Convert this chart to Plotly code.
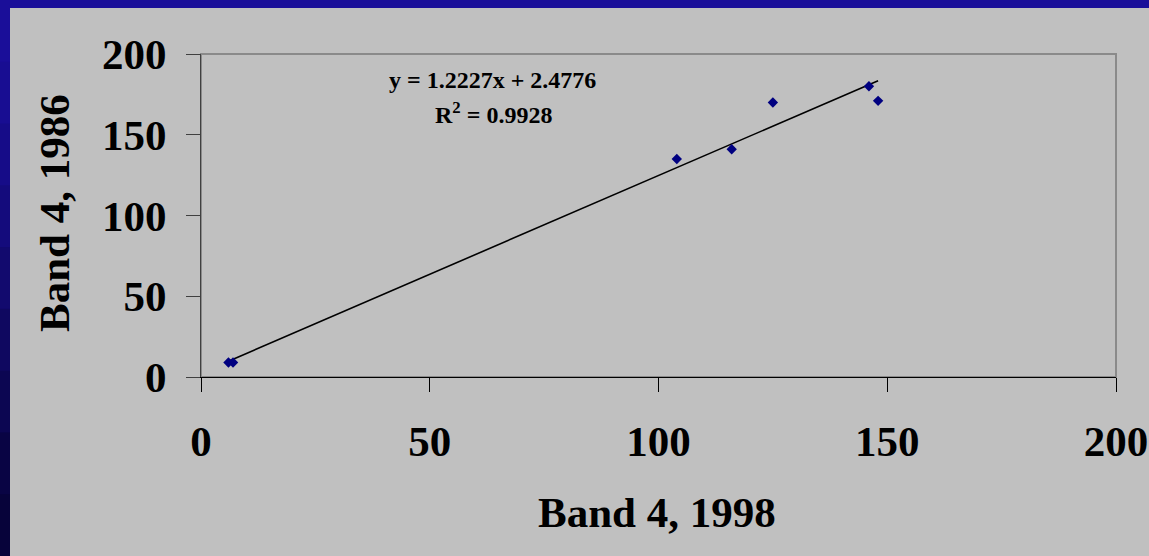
import plotly.graph_objects as go

# Data
band4_1998 = [6, 7, 104, 116, 125, 146, 148]
band4_1986 = [9, 9, 135, 141, 170, 180, 171]

slope = 1.2227
intercept = 2.4776
r_squared = 0.9928

x_ticks = [0, 50, 100, 150, 200]
y_ticks = [0, 50, 100, 150, 200]

FONT = "Liberation Serif"
W, H = 1149, 556
L, R, T, B = 201, 33, 54, 179
pw, ph = W - L - R, H - T - B

def px2paper_x(px):
    return (px - L) / pw

def px2paper_y(py):
    return (H - B - py) / ph

fig = go.Figure()

# trendline from fitted equation over data range
x_line = [min(band4_1998), max(band4_1998)]
y_line = [slope * v + intercept for v in x_line]
fig.add_trace(go.Scatter(x=x_line, y=y_line, mode="lines",
                         line=dict(color="black", width=1.6),
                         hoverinfo="skip", showlegend=False))
fig.add_trace(go.Scatter(x=band4_1998, y=band4_1986, mode="markers",
                         marker=dict(symbol="diamond", size=8, color="#000080",
                                     line=dict(width=0)),
                         showlegend=False))

shapes = []
# blue slide background strips (left gradient, top)
left_cols = ["#1a0e99", "#180d92", "#160c88", "#140b7c", "#120a6e", "#0f0860",
             "#0c0652", "#090444", "#07033a"]
n = len(left_cols)
for i, c in enumerate(left_cols):
    shapes.append(dict(type="rect", xref="paper", yref="paper", layer="below",
                       x0=px2paper_x(0), x1=px2paper_x(10),
                       y0=px2paper_y(i * H / n), y1=px2paper_y((i + 1) * H / n + 1),
                       fillcolor=c, line=dict(width=0)))
shapes.append(dict(type="rect", xref="paper", yref="paper", layer="below",
                   x0=px2paper_x(0), x1=px2paper_x(W),
                   y0=px2paper_y(0), y1=px2paper_y(8),
                   fillcolor="#1a0e99", line=dict(width=0)))
# plot area border (top/right gray)
shapes.append(dict(type="rect", xref="paper", yref="paper", layer="below",
                   x0=0, x1=1, y0=0, y1=1,
                   fillcolor="rgba(0,0,0,0)", line=dict(color="#8a8a8a", width=2)))

annotations = [
    dict(text="y = %.4fx + %.4f" % (slope, intercept), xref="paper", yref="paper",
         x=px2paper_x(492.5), y=px2paper_y(80), showarrow=False,
         xanchor="center", yanchor="middle",
         font=dict(family=FONT, size=24, color="black", weight="bold")),
    dict(text="R<sup>2</sup> = %.4f" % r_squared, xref="paper", yref="paper",
         x=px2paper_x(493), y=px2paper_y(113), showarrow=False,
         xanchor="center", yanchor="middle",
         font=dict(family=FONT, size=24, color="black", weight="bold")),
    dict(text="Band 4, 1998", xref="paper", yref="paper",
         x=px2paper_x(657), y=px2paper_y(512), showarrow=False,
         xanchor="center", yanchor="middle",
         font=dict(family=FONT, size=43, color="black", weight="bold")),
    dict(text="Band 4, 1986", xref="paper", yref="paper", textangle=-90,
         x=px2paper_x(54), y=px2paper_y(213), showarrow=False,
         xanchor="center", yanchor="middle",
         font=dict(family=FONT, size=43, color="black", weight="bold")),
]

fig.update_layout(
    width=W, height=H,
    margin=dict(l=L, r=R, t=T, b=B, pad=0),
    paper_bgcolor="#c0c0c0", plot_bgcolor="#c0c0c0",
    shapes=shapes, annotations=annotations,
    showlegend=False,
    xaxis=dict(range=[0, 200], tickvals=x_ticks, ticktext=[str(v) for v in x_ticks],
               automargin=False,
               showgrid=False, zeroline=False, showline=True, linecolor="black",
               linewidth=1, ticks="outside", ticklen=14, tickcolor="black",
               tickwidth=1, ticklabelstandoff=12,
               tickfont=dict(family=FONT, size=43, color="black", weight="bold")),
    yaxis=dict(range=[0, 200], tickvals=y_ticks, ticktext=[str(v) for v in y_ticks],
               automargin=False,
               showgrid=False, zeroline=False, showline=True, linecolor="#404040",
               linewidth=1, ticks="outside", ticklen=14, tickcolor="#404040",
               tickwidth=1, ticklabelstandoff=11,
               tickfont=dict(family=FONT, size=43, color="black", weight="bold")),
)

fig.write_html("out.html", config={"displayModeBar": False},
               post_script="document.body.style.margin='0';document.body.style.overflow='hidden';")
